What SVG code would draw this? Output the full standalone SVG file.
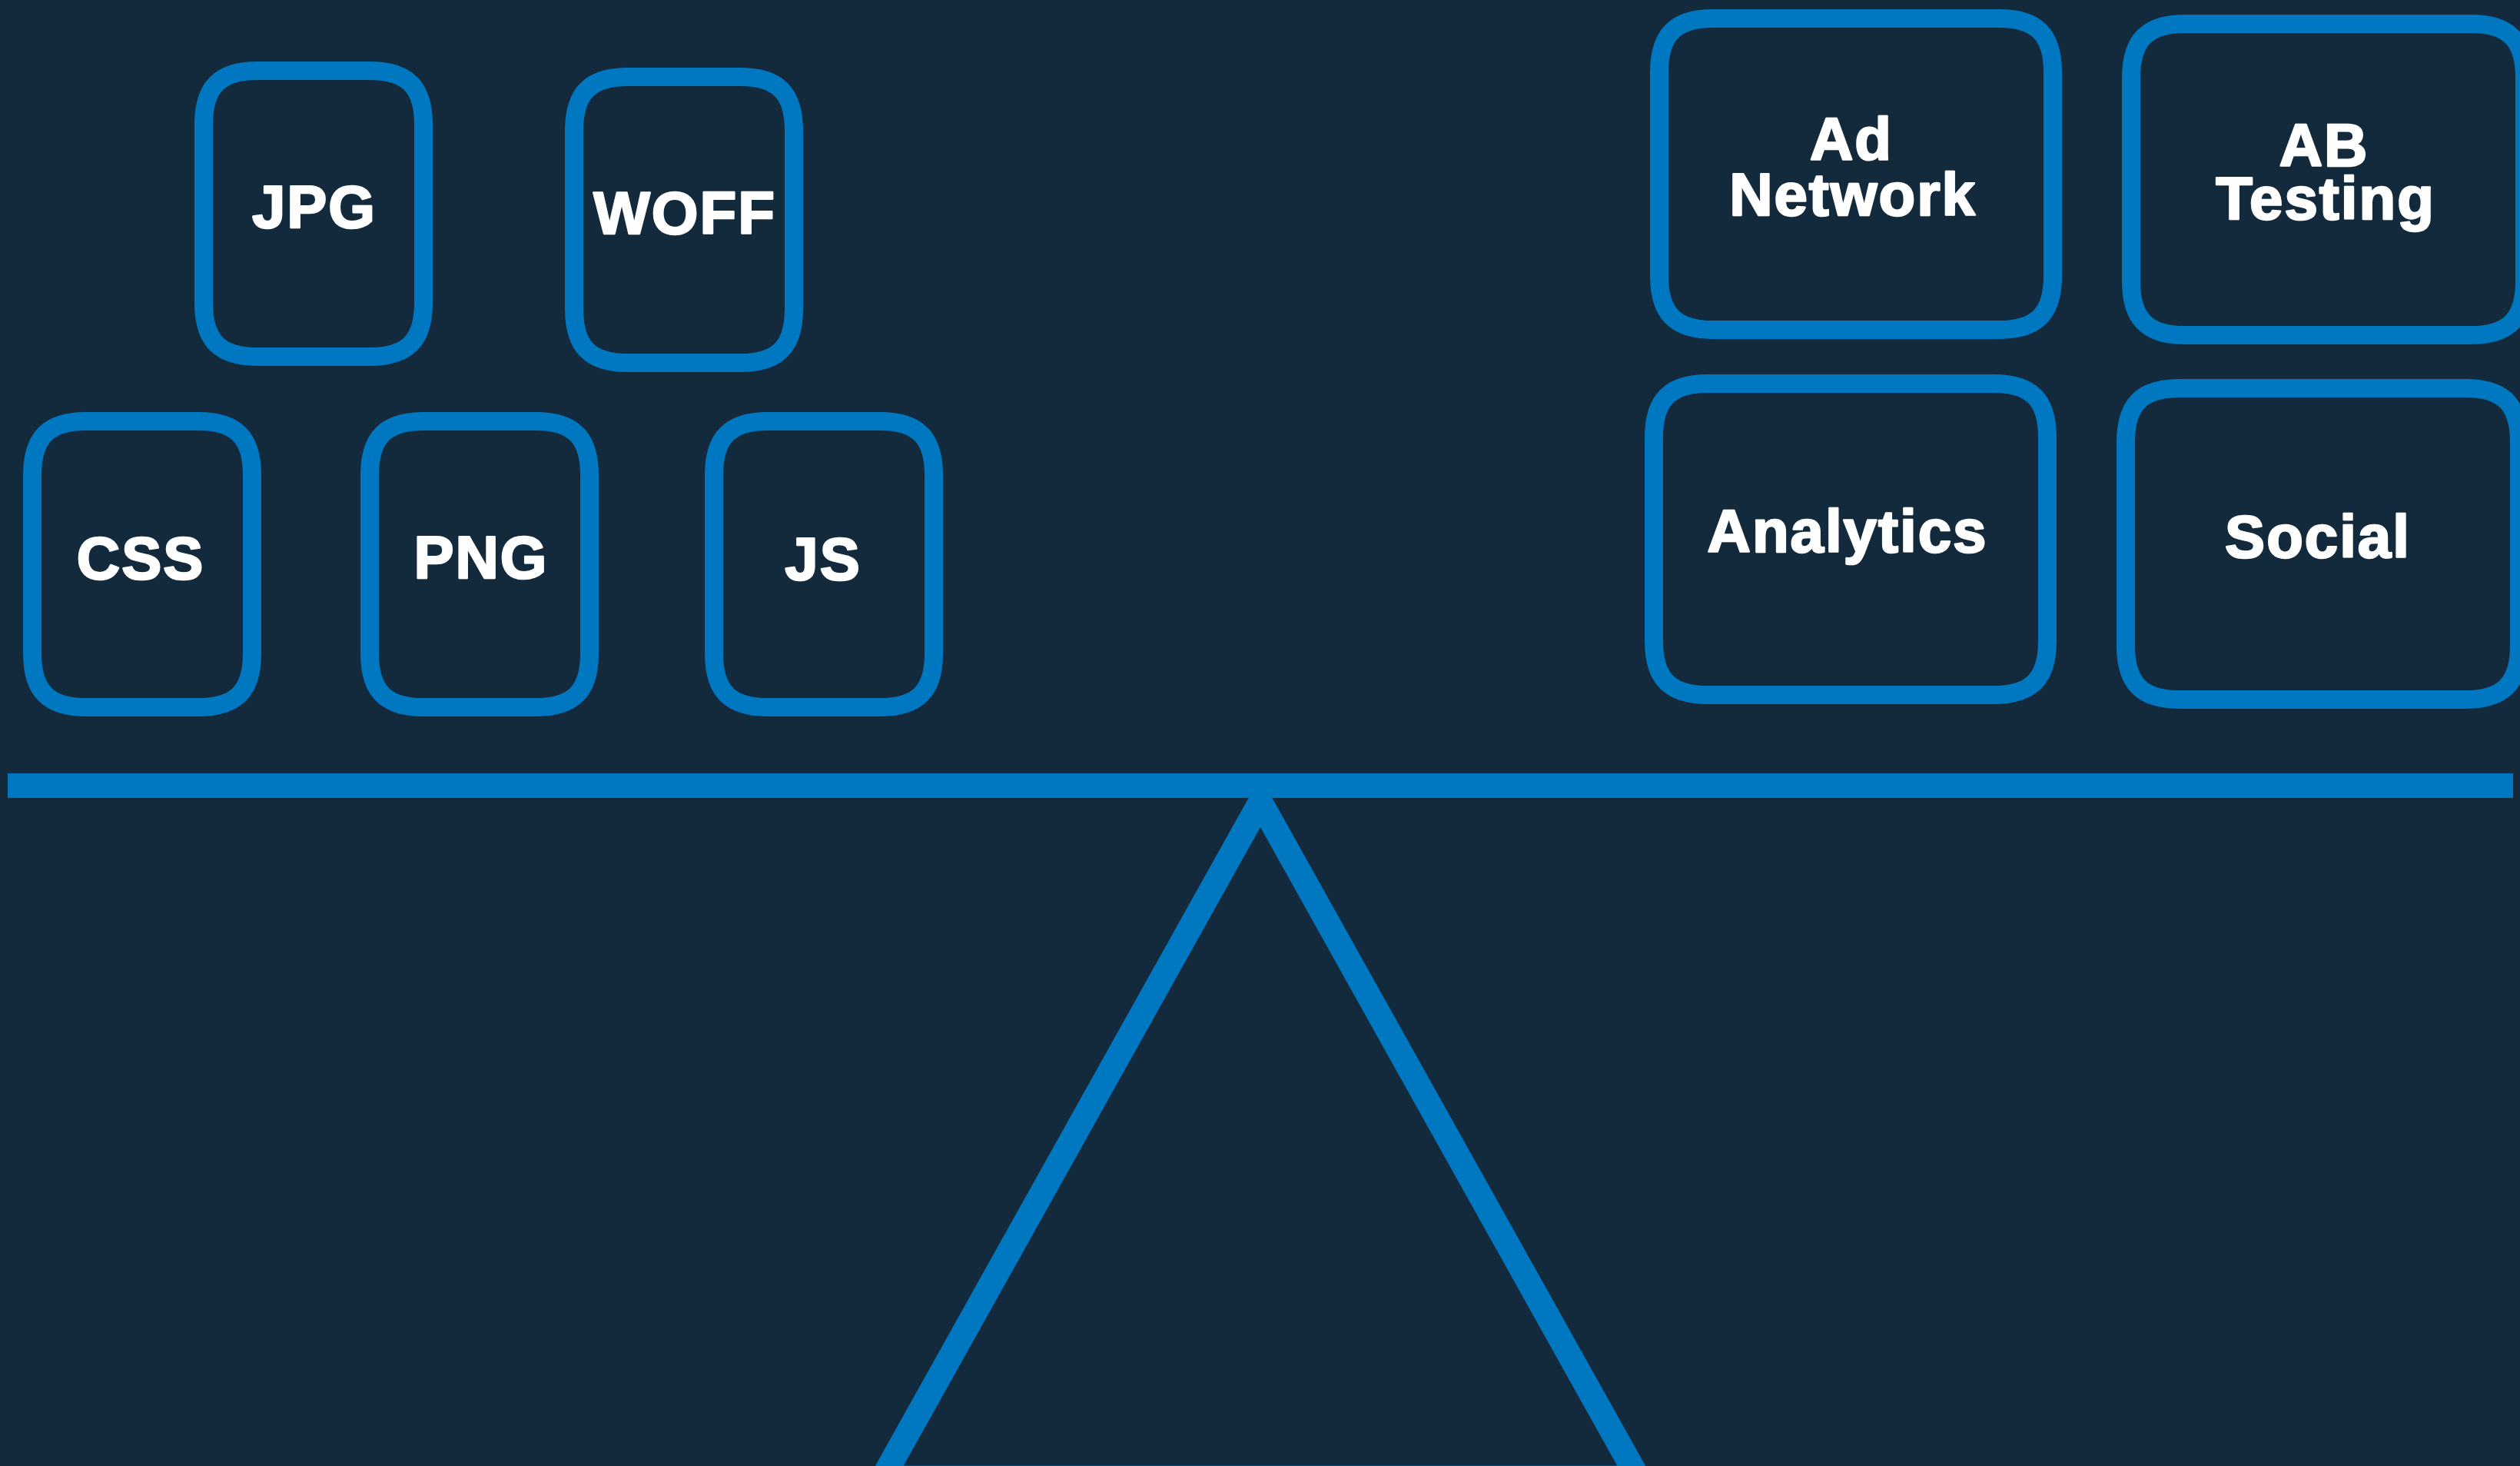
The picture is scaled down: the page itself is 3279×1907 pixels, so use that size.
<svg xmlns="http://www.w3.org/2000/svg" width="3279" height="1907" viewBox="0 0 3279 1907">
<style>
.box{fill:none;stroke:#0078c1;stroke-width:24}
.lbl{font-family:"Liberation Sans",Arial,sans-serif;font-weight:bold;font-size:78px;letter-spacing:2px;fill:#ffffff;stroke:#ffffff;stroke-width:2.5px;stroke-linejoin:round;text-anchor:middle}
.beam{fill:#0078c1}
.stand{fill:none;stroke:#0078c1;stroke-width:32;stroke-linejoin:miter}
</style>
<defs>
<path id="sm" d="M70,0 H216 C265,0 286,21 286,70 V302 C286,351 265,372 216,372 H70 C21,372 0,351 0,302 V70 C0,21 21,0 70,0 Z"/>
<path id="lg" d="M70,0 H442 C491,0 512,21 512,70 V335 C512,384 491,405 442,405 H70 C21,405 0,384 0,335 V70 C0,21 21,0 70,0 Z"/>
</defs>
<rect x="0" y="0" width="3279" height="1907" fill="#13293c"/>
<g id="connectors">
<polygon class="stand" points="1640,1043.3 2131.5,1922.5 1148.5,1922.5"/>
<rect class="beam" x="10" y="1006" width="3260" height="32"/>
</g>
<g id="jpg"><use href="#sm" class="box" transform="translate(265,92)"/><text class="lbl" x="409" y="296">JPG</text></g>
<g id="woff"><use href="#sm" class="box" transform="translate(747,100)"/><text class="lbl" x="891" y="304">WOFF</text></g>
<g id="css"><use href="#sm" class="box" transform="translate(42,548)"/><text class="lbl" x="183" y="753">CSS</text></g>
<g id="png"><use href="#sm" class="box" transform="translate(481,548)"/><text class="lbl" x="626" y="752">PNG</text></g>
<g id="js"><use href="#sm" class="box" transform="translate(929,548)"/><text class="lbl" x="1071" y="754">JS</text></g>
<g id="ad-network"><use href="#lg" class="box" transform="translate(2159,24)"/><text class="lbl"><tspan x="2409" y="208">Ad</tspan><tspan x="2411" y="280">Network</tspan></text></g>
<g id="ab-testing"><use href="#lg" class="box" transform="translate(2773,31)"/><text class="lbl"><tspan x="3024" y="216">AB</tspan><tspan x="3026" y="285">Testing</tspan></text></g>
<g id="analytics"><use href="#lg" class="box" transform="translate(2152,499)"/><text class="lbl" x="2404" y="718">Analytics</text></g>
<g id="social"><use href="#lg" class="box" transform="translate(2766,505)"/><text class="lbl" x="3016" y="725">Social</text></g>
</svg>
